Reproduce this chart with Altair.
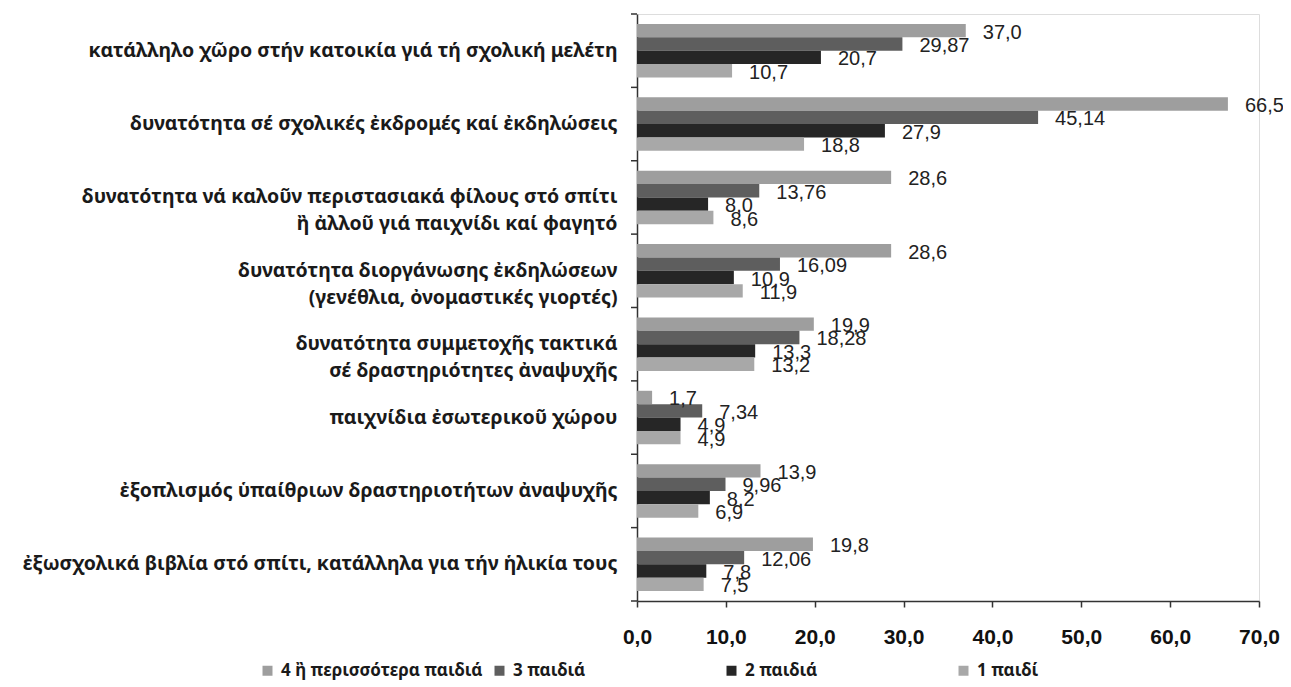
import altair as alt
import pandas as pd

categories = [
    "κατάλληλο χῶρο στήν κατοικία γιά τή σχολική μελέτη",
    "δυνατότητα σέ σχολικές ἐκδρομές καί ἐκδηλώσεις",
    "δυνατότητα νά καλοῦν περιστασιακά φίλους στό σπίτι|ἢ ἀλλοῦ γιά παιχνίδι καί φαγητό",
    "δυνατότητα διοργάνωσης ἐκδηλώσεων|(γενέθλια, ὀνομαστικές γιορτές)",
    "δυνατότητα συμμετοχῆς τακτικά|σέ δραστηριότητες ἀναψυχῆς",
    "παιχνίδια ἐσωτερικοῦ χώρου",
    "ἐξοπλισμός ὑπαίθριων δραστηριοτήτων ἀναψυχῆς",
    "ἐξωσχολικά βιβλία στό σπίτι, κατάλληλα για τήν ἡλικία τους",
]
series = ["4 ἢ περισσότερα παιδιά", "3 παιδιά", "2 παιδιά", "1 παιδί"]
decimals = [1, 2, 1, 1]
v4 = [37.0, 66.5, 28.6, 28.6, 19.9, 1.7, 13.9, 19.8]
v3 = [29.87, 45.14, 13.76, 16.09, 18.28, 7.34, 9.96, 12.06]
v2 = [20.7, 27.9, 8.0, 10.9, 13.3, 4.9, 8.2, 7.8]
v1 = [10.7, 18.8, 8.6, 11.9, 13.2, 4.9, 6.9, 7.5]
colors = ["#9e9e9e", "#5e5e5e", "#262626", "#a8a8a8"]
x_ticks = [0, 10, 20, 30, 40, 50, 60, 70]
boundaries = list(range(len(categories) + 1))

rows = []
for s, vals, d in zip(series, [v4, v3, v2, v1], decimals):
    for c, v in zip(categories, vals):
        rows.append({"cat": c, "series": s, "value": v,
                     "label": f"{v:.{d}f}".replace(".", ",")})
df = pd.DataFrame(rows)
bdf = pd.DataFrame({"b": boundaries})

LABEL_FONT = "Noto Sans"
NUM_FONT = "Liberation Sans"

y_enc = alt.Y("cat:N", sort=categories, title=None,
              scale=alt.Scale(paddingInner=0.27, paddingOuter=0.135),
              axis=alt.Axis(ticks=False, labelPadding=20, labelLimit=700,
                            labelExpr="split(datum.label, '|')",
                            labelFont=LABEL_FONT, labelFontSize=19.5,
                            labelFontWeight="bold", labelColor="#1a1a1a",
                            labelLineHeight=27, domainColor="#333333",
                            domainWidth=1.5))
yoff = alt.YOffset("series:N", sort=series, scale=alt.Scale(paddingInner=0, paddingOuter=0))
x_enc = alt.X("value:Q", title=None,
              scale=alt.Scale(domain=[0, 70], nice=False),
              axis=alt.Axis(values=x_ticks, grid=False, tickSize=6,
                            labelPadding=19, labelFont=NUM_FONT,
                            labelFontSize=21, labelFontWeight="bold",
                            labelColor="#111111", labelFlush=False,
                            labelExpr="replace(format(datum.value, '.1f'), '.', ',')",
                            domainColor="#333333", tickColor="#333333",
                            domainWidth=1.5, tickWidth=1.5))

bars = alt.Chart(df).mark_bar().encode(
    x=x_enc, y=y_enc, yOffset=yoff,
    color=alt.Color("series:N", sort=series,
                    scale=alt.Scale(domain=series, range=colors),
                    legend=alt.Legend(title=None, orient="none", legendX=-378,
                                      legendY=648, direction="horizontal",
                                      columns=4, gridAlign="all",
                                      columnPadding=8, symbolType="square",
                                      symbolSize=100, symbolStrokeWidth=0,
                                      labelFont=LABEL_FONT, labelFontSize=17,
                                      labelFontWeight="bold", labelColor="#1a1a1a",
                                      labelLimit=400,
                                      symbolOffset=0, labelOffset=5)),
)
texts = alt.Chart(df).mark_text(align="left", baseline="middle", dx=17, dy=2,
                                font=NUM_FONT, fontSize=20, color="#222222").encode(
    x="value:Q", y=alt.Y("cat:N", sort=categories), yOffset=alt.YOffset("series:N", sort=series), text="label:N"
)
inner = alt.layer(bars, texts)

ticks = alt.Chart(bdf).mark_rule(color="#333333", strokeWidth=1.5).encode(
    y=alt.Y("b:Q", scale=alt.Scale(domain=[0, len(categories)], nice=False), axis=None),
    x=alt.value(-6), x2=alt.value(0),
)

chart = alt.layer(inner, ticks).resolve_scale(y="independent").properties(
    width=622, height=587,
    autosize=alt.AutoSizeParams(type="none"),
    padding={"left": 629, "top": 6, "right": 24, "bottom": 80},
).configure_view(stroke=None).configure(background="white")

chart.save("out.html", embed_options={"renderer": "svg", "actions": False})
